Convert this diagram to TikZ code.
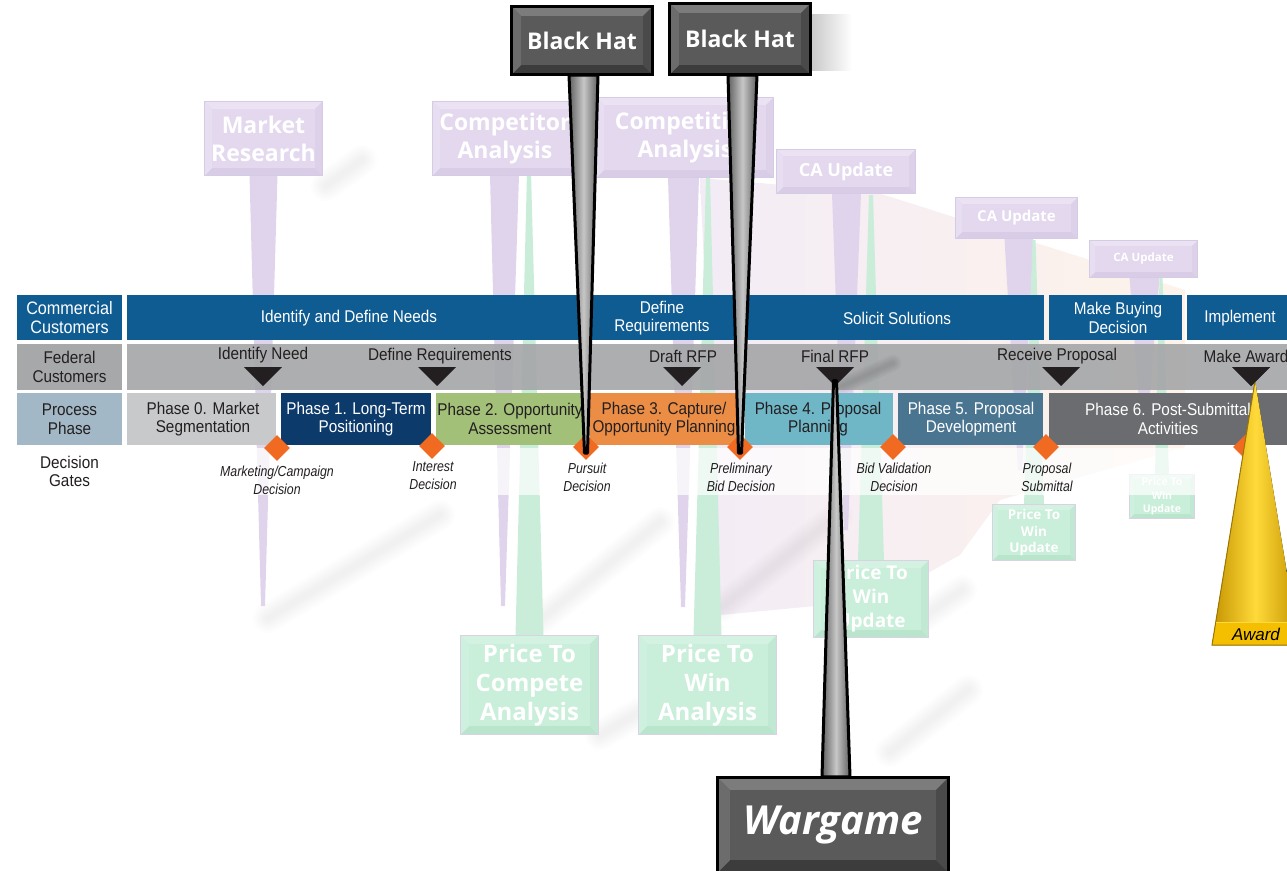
\documentclass[tikz,border=0pt]{standalone}
\usepackage{fontspec}
\setmainfont{Liberation Sans}
\newfontfamily\cond[FakeStretch=0.9]{Liberation Sans}
\newfontfamily\gatef[FakeStretch=0.85]{Liberation Sans}
\newfontfamily\signf{Open Sans}
\usetikzlibrary{calc,shapes.geometric}
\pgfdeclarelayer{back}
\pgfdeclarelayer{stems}
\pgfsetlayers{back,stems,main}

\definecolor{blueband}{HTML}{0F5C93}
\definecolor{grayband}{HTML}{A7A8AA}
\definecolor{proclab}{HTML}{A3B8C7}
\definecolor{ph0}{HTML}{C8C9CB}
\definecolor{ph1}{HTML}{0B3A6B}
\definecolor{ph2}{HTML}{A3C079}
\definecolor{ph3}{HTML}{EC8D46}
\definecolor{ph4}{HTML}{6FB7C7}
\definecolor{ph5}{HTML}{4A7591}
\definecolor{ph6}{HTML}{6B6C6F}
\definecolor{orangeD}{HTML}{F06A21}
\definecolor{txtdark}{HTML}{231F20}
% purple signs
\definecolor{pface}{HTML}{E3D8EE}
\definecolor{ptop}{HTML}{EBE3F4}
\definecolor{pbot}{HTML}{D8CCE6}
\definecolor{plft}{HTML}{E7DEF1}
\definecolor{prgt}{HTML}{DDD1EA}
\definecolor{pline}{HTML}{D6CBE4}
\definecolor{pstemc}{HTML}{DFD4EC}
% green signs
\definecolor{gface}{HTML}{C9EEDA}
\definecolor{gtop}{HTML}{D3F2E2}
\definecolor{gbot}{HTML}{BAE5CD}
\definecolor{glft}{HTML}{CEF0DE}
\definecolor{grgt}{HTML}{C0E8D2}
\definecolor{gline}{HTML}{D8D2E3}
\definecolor{gstemc}{HTML}{C9EDD8}
% black signs
\definecolor{kface}{HTML}{5A5A5A}
\definecolor{ktop}{HTML}{7C7C7C}
\definecolor{kbot}{HTML}{3C3C3C}
\definecolor{klft}{HTML}{6C6C6C}
\definecolor{krgt}{HTML}{4A4A4A}
\definecolor{kline}{HTML}{000000}
% award
\definecolor{awlight}{HTML}{FFDA3A}
\definecolor{awdark}{HTML}{C49300}
\definecolor{awedge}{HTML}{9C7600}
\definecolor{awband}{HTML}{F4BF00}
\definecolor{lav}{HTML}{F3ECF6}
\definecolor{peach}{HTML}{FDF3EA}

\tikzset{
  pframe/.style={draw=pline, line width=1pt},
  gframe/.style={draw=gline, line width=1pt},
  kframe/.style={draw=kline, line width=3pt},
  signtext/.style={text=white, align=center, inner sep=0pt},
  lbl/.style={align=center, inner sep=0pt, font=\cond\fontsize{17}{18.5}\selectfont, text=txtdark},
  gate/.style={align=center, inner sep=0pt, font=\gatef\itshape\fontsize{14.5}{18}\selectfont, text=txtdark},
  gatemark/.style={diamond, fill=orangeD, minimum width=26, minimum height=26, inner sep=0pt},
  pstem/.style={fill=pstemc},
  gstem/.style={fill=gstemc},
  hatstem/.style={draw=black, line width=3pt, line join=round, left color=black!62, right color=black!62, middle color=black!22},
  softlayer/.style={draw=black, line cap=round, line width=#1, opacity=0.009},
}

\newcommand{\signbox}[8]{%
  \node[minimum width=#3, minimum height=#4, inner sep=0pt, fill=#5face] (#1) at (#2) {};
  \fill[#5top] (#1.north west) -- (#1.north east) -- ($(#1.north east)+(-#6,#6)$) -- ($(#1.north west)+(#6,#6)$) -- cycle;
  \fill[#5bot] (#1.south west) -- (#1.south east) -- ($(#1.south east)+(-#6,-#6)$) -- ($(#1.south west)+(#6,-#6)$) -- cycle;
  \fill[#5lft] (#1.north west) -- ($(#1.north west)+(#6,#6)$) -- ($(#1.south west)+(#6,-#6)$) -- (#1.south west) -- cycle;
  \fill[#5rgt] (#1.north east) -- ($(#1.north east)+(-#6,#6)$) -- ($(#1.south east)+(-#6,-#6)$) -- (#1.south east) -- cycle;
  \draw[#5frame] (#1.north west) rectangle (#1.south east);
  \node[signtext, font=#7] (#1-t) at (#1.center) {#8};
}
\newcommand{\softshadow}[2]{%
  \foreach \w in {30,26,22,18,14,10,6}{\draw[softlayer=\w] #1 -- #2;}
}

\begin{document}
\begin{tikzpicture}[x=1pt,y=-1pt]
\useasboundingbox (0,0) rectangle (1287,870);

% ---------- background tint and soft shadows ----------
\begin{pgfonlayer}{back}
\shade[left color=lav, right color=peach]
  (700,178) -- (878,193) -- (1185,290) -- (1185,447) -- (1000,500) -- (960,555) -- (880,600) -- (720,615) -- cycle;
\shade[left color=black!22, right color=white] (810,14) rectangle (852,70);
\softshadow{(268,618)}{(440,515)}
\softshadow{(540,620)}{(660,522)}
\softshadow{(722,607)}{(838,515)}
\softshadow{(912,625)}{(962,590)}
\softshadow{(890,752)}{(968,690)}
\softshadow{(600,735)}{(640,712)}
\softshadow{(326,186)}{(362,160)}
\end{pgfonlayer}

% ---------- tip coordinates ----------
\coordinate (mr-tip) at (263,606);
\coordinate (ca-tip) at (503,606);
\coordinate (cv-tip) at (683,607);
\coordinate (u1-tip) at (846,530);
\coordinate (u2-tip) at (1020,470);
\coordinate (u3-tip) at (1144,440);
\coordinate (ptc-tip) at (529,172);
\coordinate (ptw-tip) at (708,177);
\coordinate (w1-tip) at (871,195);
\coordinate (w2-tip) at (1034,240);
\coordinate (w3-tip) at (1161,277);

% ---------- faded signs ----------
\signbox{mr}{263.5,138.5}{117}{73}{p}{7}{\signf\bfseries\fontsize{23}{28}\selectfont}{Market\\Research}
\signbox{ca}{505,138.5}{144}{73}{p}{7}{\signf\bfseries\fontsize{23}{28}\selectfont}{Competitor\\Analysis}
\signbox{cv}{685,137.5}{176}{79}{p}{7}{\signf\bfseries\fontsize{23}{28}\selectfont}{Competitive\\Analysis}
\signbox{u1}{846,171.5}{138}{43}{p}{6}{\signf\bfseries\fontsize{18}{22}\selectfont}{CA Update}
\signbox{u2}{1016.5,218}{121}{40}{p}{6}{\signf\bfseries\fontsize{15}{18}\selectfont}{CA Update}
\signbox{u3}{1143.5,259}{107}{36}{p}{5}{\signf\bfseries\fontsize{11.5}{14}\selectfont}{CA Update}

\signbox{ptc}{529.5,685}{137}{98}{g}{8}{\signf\bfseries\fontsize{24}{29}\selectfont}{Price To\\Compete\\Analysis}
\signbox{ptw}{707.5,685}{137}{98}{g}{8}{\signf\bfseries\fontsize{24}{29}\selectfont}{Price To\\Win\\Analysis}
\signbox{w1}{871,599}{114}{76}{g}{7}{\signf\bfseries\fontsize{19}{24}\selectfont}{Price To\\Win\\Update}
\signbox{w2}{1034,532.5}{82}{55}{g}{5}{\signf\bfseries\fontsize{13.5}{16.5}\selectfont}{Price To\\Win\\Update}
\signbox{w3}{1162,496.5}{64}{43}{g}{4}{\signf\bfseries\fontsize{10.5}{13.5}\selectfont}{Price To\\Win\\Update}

% ---------- faded stems ----------
\begin{pgfonlayer}{stems}
\fill[pstem] ($(mr.south)+(-14,0)$) -- ($(mr.south)+(14,0)$) -- ($(mr-tip)+(2,0)$) -- ($(mr-tip)+(-2,0)$) -- cycle;
\fill[pstem] ($(ca.south)+(-15,0)$) -- ($(ca.south)+(14,0)$) -- ($(ca-tip)+(2,0)$) -- ($(ca-tip)+(-2,0)$) -- cycle;
\fill[pstem] ($(cv.south)+(-17,0)$) -- ($(cv.south)+(14,0)$) -- ($(cv-tip)+(2,0)$) -- ($(cv-tip)+(-2,0)$) -- cycle;
\fill[pstem] ($(u1.south)+(-14,0)$) -- ($(u1.south)+(15,0)$) -- ($(u1-tip)+(2,0)$) -- ($(u1-tip)+(-2,0)$) -- cycle;
\fill[pstem] ($(u2.south)+(-12,0)$) -- ($(u2.south)+(17,0)$) -- ($(u2-tip)+(2,0)$) -- ($(u2-tip)+(-2,0)$) -- cycle;
\fill[pstem] ($(u3.south)+(-14,0)$) -- ($(u3.south)+(16,0)$) -- ($(u3-tip)+(2,0)$) -- ($(u3-tip)+(-2,0)$) -- cycle;
\fill[gstem] ($(ptc.north)+(-14,0)$) -- ($(ptc.north)+(14,0)$) -- ($(ptc-tip)+(2,0)$) -- ($(ptc-tip)+(-2,0)$) -- cycle;
\fill[gstem] ($(ptw.north)+(-14,0)$) -- ($(ptw.north)+(14,0)$) -- ($(ptw-tip)+(2,0)$) -- ($(ptw-tip)+(-2,0)$) -- cycle;
\fill[gstem] ($(w1.north)+(-13,0)$) -- ($(w1.north)+(13,0)$) -- ($(w1-tip)+(2,0)$) -- ($(w1-tip)+(-2,0)$) -- cycle;
\fill[gstem] ($(w2.north)+(-10,0)$) -- ($(w2.north)+(10,0)$) -- ($(w2-tip)+(1.5,0)$) -- ($(w2-tip)+(-1.5,0)$) -- cycle;
\fill[gstem] ($(w3.north)+(-7,0)$) -- ($(w3.north)+(7,0)$) -- ($(w3-tip)+(1.5,0)$) -- ($(w3-tip)+(-1.5,0)$) -- cycle;
\end{pgfonlayer}

% ---------- table: row 1 ----------
\node[fill=blueband, minimum width=105, minimum height=45, inner sep=0pt] (r1lab) at (69.5,317.5) {};
\node[lbl, text=white, font=\cond\fontsize{18}{19}\selectfont] (r1lab-t) at (r1lab.center) {Commercial\\Customers};
\node[fill=blueband, minimum width=917, minimum height=45, inner sep=0pt] (r1band) at (585.5,317.5) {};
\node[lbl, text=white] (idn) at (349,318) {Identify and Define Needs};
\node[lbl, text=white] (dfr) at (662,318) {Define\\Requirements};
\node[lbl, text=white] (sol) at (897,318) {Solicit Solutions};
\node[fill=blueband, minimum width=133, minimum height=45, inner sep=0pt] (buy) at (1115.5,317.5) {};
\node[lbl, text=white] (buy-t) at (1118,318) {Make Buying\\Decision};
\node[fill=blueband, minimum width=106, minimum height=45, inner sep=0pt] (impl) at (1240,317.5) {};
\node[lbl, text=white] (impl-t) at (1240,318) {Implement};

% ---------- row 2 ----------
\node[fill=grayband, minimum width=105, minimum height=46, inner sep=0pt] (r2lab) at (69.5,367) {};
\node[lbl] (r2lab-t) at (r2lab.center) {Federal\\Customers};
\node[fill=grayband, fill opacity=0.93, minimum width=1168, minimum height=46, inner sep=0pt] (r2band) at (711,367) {};
\node[lbl] (fn1) at (263,355) {Identify Need};
\node[lbl] (fn2) at (440,356) {Define Requirements};
\node[lbl] (fn3) at (683,356) {Draft RFP};
\node[lbl] (fn4) at (835,356) {Final RFP};
\node[lbl] (fn5) at (1057,356) {Receive Proposal};
\node[lbl] (fn6) at (1246,356) {Make Award};
\foreach \w in {16,12,8,4}{\draw[black, line cap=round, line width=\w, opacity=0.03] (842,386) -- (893,363);}
\foreach \n/\x in {t1/263,t2/437,t3/682,t4/835,t5/1061,t6/1251}{
  \coordinate (\n) at (\x,376.5);
  \fill[txtdark] (\n) ++(-19,-9.5) -- ++(38,0) -- ++(-19,19) -- cycle;
}

% ---------- row 3 ----------
\node[fill=proclab, minimum width=105, minimum height=52, inner sep=0pt] (r3lab) at (69.5,419) {};
\node[lbl] (r3lab-t) at (r3lab.center) {Process\\Phase};
\node[fill=ph0, minimum width=149, minimum height=52, inner sep=0pt] (p0) at (201.5,419) {};
\node[fill=ph1, minimum width=150, minimum height=52, inner sep=0pt] (p1) at (356,419) {};
\node[fill=ph2, minimum width=149, minimum height=52, inner sep=0pt] (p2) at (510.5,419) {};
\node[fill=ph3, minimum width=149, minimum height=52, inner sep=0pt] (p3) at (664.5,419) {};
\node[fill=ph4, minimum width=148, minimum height=52, inner sep=0pt] (p4) at (819,419) {};
\node[fill=ph5, minimum width=145, minimum height=52, inner sep=0pt] (p5) at (970.5,419) {};
\node[fill=ph6, minimum width=244, minimum height=52, inner sep=0pt] (p6) at (1171,419) {};
\node[lbl] (p0-t) at (203,419) {Phase 0. Market\\Segmentation};
\node[lbl, text=white] (p1-t) at (356,419) {Phase 1. Long-Term\\Positioning};
\node[lbl] (p2-t) at (510,419) {Phase 2. Opportunity\\Assessment};
\node[lbl] (p3-t) at (664,419) {Phase 3. Capture/\\Opportunity Planning};
\node[lbl] (p4-t) at (818,419) {Phase 4. Proposal\\Planning};
\node[lbl, text=white] (p5-t) at (971,419) {Phase 5. Proposal\\Development};
\node[lbl, text=white] (p6-t) at (1168,419) {Phase 6. Post-Submittal\\Activities};

% ---------- row 4 ----------
\fill[white, opacity=0.72] (17,448) rectangle (1200,495);
\node[fill=white, minimum width=105, minimum height=47, inner sep=0pt] (r4lab) at (69.5,471.5) {};
\node[lbl] (r4lab-t) at (r4lab.center) {Decision\\Gates};
\node[gatemark] (d1) at (277,448) {};
\node[gatemark] (d2) at (432,446) {};
\node[gatemark] (d3) at (586,447) {};
\node[gatemark] (d4) at (740,447) {};
\node[gatemark] (d5) at (893,447) {};
\node[gatemark] (d6) at (1046,447) {};
\node[gatemark] (d7) at (1246,447) {};
\node[gate] (g1) at (277,480) {Marketing/Campaign\\Decision};
\node[gate] (g2) at (433,476) {Interest\\Decision};
\node[gate] (g3) at (587,477) {Pursuit\\Decision};
\node[gate] (g4) at (741,477) {Preliminary\\Bid Decision};
\node[gate] (g5) at (894,477) {Bid Validation\\Decision};
\node[gate] (g6) at (1047,477) {Proposal\\Submittal};

% ---------- award ----------
\coordinate (awtip) at (1255,381);
\fill[left color=awdark, right color=awdark, middle color=awlight] (awtip) -- (1299,645) -- (1212,645) -- cycle;
\fill[awband] (1216,622) -- (1295,622) -- (1299,645) -- (1212,645) -- cycle;
\draw[awedge, line width=1pt] (awtip) -- (1212,645) -- (1299,645);
\draw[awlight, line width=1pt] (1216,622) -- (1295,622);
\node[font=\fontsize{17}{20}\selectfont\itshape, text=black, inner sep=0pt] (aw-t) at (1256,634) {Award};
\fill[txtdark] (t6) ++(-19,-9.5) -- ++(38,0) -- ++(-19,19) -- cycle;

% ---------- black hats ----------
\signbox{bh1}{582,40.5}{140}{67}{k}{9}{\signf\bfseries\fontsize{23}{28}\selectfont}{Black Hat}
\signbox{bh2}{740,39}{140}{70}{k}{9}{\signf\bfseries\fontsize{23}{28}\selectfont}{Black Hat}
\draw[hatstem] ($(bh1.south)+(-13,1)$) -- ($(bh1.south)+(16,1)$) -- ($(d3)+(1.5,6)$) -- ($(d3)+(-1.5,6)$) -- cycle;
\draw[hatstem] ($(bh2.south)+(-12,1)$) -- ($(bh2.south)+(17,1)$) -- ($(d4)+(1.5,6)$) -- ($(d4)+(-1.5,6)$) -- cycle;

% ---------- wargame ----------
\signbox{wg}{833,825}{230}{94}{k}{12}{\signf\bfseries\itshape\fontsize{40}{46}\selectfont}{Wargame}
\draw[hatstem] ($(wg.north)+(-11,-1)$) -- ($(wg.north)+(17,-1)$) -- ($(t4)+(1.5,4)$) -- ($(t4)+(-1.5,4)$) -- cycle;

\end{tikzpicture}
\end{document}
